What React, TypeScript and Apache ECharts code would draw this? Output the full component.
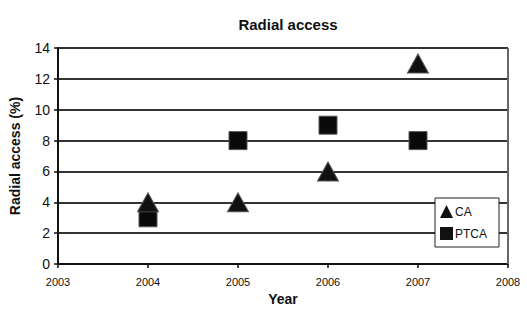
import React, { useEffect, useRef } from "react";
import * as echarts from "echarts";

const years = [2004, 2005, 2006, 2007];
const caValues = [4, 4, 6, 13];
const ptcaValues = [3, 8, 9, 8];
const titleText = "Radial access";
const xName = "Year";
const yName = "Radial access (%)";

export default function App() {
  const ref = useRef<HTMLDivElement>(null);
  useEffect(() => {
    if (!ref.current) return;
    const chart = echarts.init(ref.current, null, { renderer: "svg" });
    const font = "'Liberation Sans', Arial, sans-serif";
    chart.setOption({
      animation: false,
      backgroundColor: "#ffffff",
      textStyle: { fontFamily: font },
      title: {
        text: titleText,
        left: 283,
        textAlign: "center",
        top: 12,
        textStyle: { fontFamily: font, fontSize: 15, fontWeight: "bold", color: "#111" },
      },
      grid: { left: 58, right: 19, top: 48, bottom: 46, containLabel: false, show: false },
      legend: {
        orient: "vertical",
        left: 435,
        top: 198,
        width: 63,
        padding: [7, 12, 7, 5],
        itemGap: 9,
        itemWidth: 13,
        itemHeight: 13,
        backgroundColor: "#fff",
        borderColor: "#222",
        borderWidth: 1,
        textStyle: { fontFamily: font, fontSize: 12, color: "#111", padding: [0, 0, 0, -3] },
        data: [
          { name: "CA", icon: "triangle", itemStyle: { color: "#111", opacity: 1, borderWidth: 0 } },
          { name: "PTCA", icon: "rect", itemStyle: { color: "#111", opacity: 1, borderWidth: 0 } },
        ],
      },
      xAxis: {
        type: "value",
        min: 2003,
        max: 2008,
        interval: 1,
        name: xName,
        nameLocation: "middle",
        nameGap: 26,
        nameTextStyle: { fontFamily: font, fontSize: 14, fontWeight: "bold", color: "#111" },
        axisLine: { show: true, onZero: false, lineStyle: { color: "#111", width: 2 } },
        axisTick: { show: true, length: 4, lineStyle: { color: "#111", width: 1.5 } },
        axisLabel: { fontFamily: font, fontSize: 11, color: "#111", margin: 12, formatter: (v: number) => String(v) },
        splitLine: { show: false },
      },
      yAxis: {
        type: "value",
        min: 0,
        max: 14,
        interval: 2,
        name: yName,
        nameLocation: "middle",
        nameGap: 36,
        nameTextStyle: { fontFamily: font, fontSize: 14, fontWeight: "bold", color: "#111" },
        axisLine: { show: true, lineStyle: { color: "#111", width: 2 } },
        axisTick: { show: true, length: 4, lineStyle: { color: "#111", width: 1.5 } },
        axisLabel: { fontFamily: font, fontSize: 14, color: "#111", margin: 8 },
        splitLine: { show: true, lineStyle: { color: "#333", width: 2 } },
      },
      series: [
        {
          name: "CA",
          type: "scatter",
          symbol: "triangle",
          symbolSize: [21, 19],
          itemStyle: { color: "#111", borderColor: "#555", borderWidth: 1, opacity: 1 },
          data: years.map((y, i) => [y, caValues[i]]),
          z: 3,
        },
        {
          name: "PTCA",
          type: "scatter",
          symbol: "rect",
          symbolSize: 18,
          itemStyle: { color: "#0a0a0a", borderColor: "#555", borderWidth: 1, opacity: 1 },
          data: years.map((y, i) => [y, ptcaValues[i]]),
          z: 2,
        },
        {
          name: "border",
          type: "line",
          data: [[2008, 0], [2008, 14]],
          symbol: "none",
          silent: true,
          lineStyle: { color: "#666", width: 2 },
          z: 1,
        },
      ],
    });
    return () => chart.dispose();
  }, []);
  return <div ref={ref} style={{ width: 527, height: 311, position: "absolute", left: 0, top: 0 }} />;
}
